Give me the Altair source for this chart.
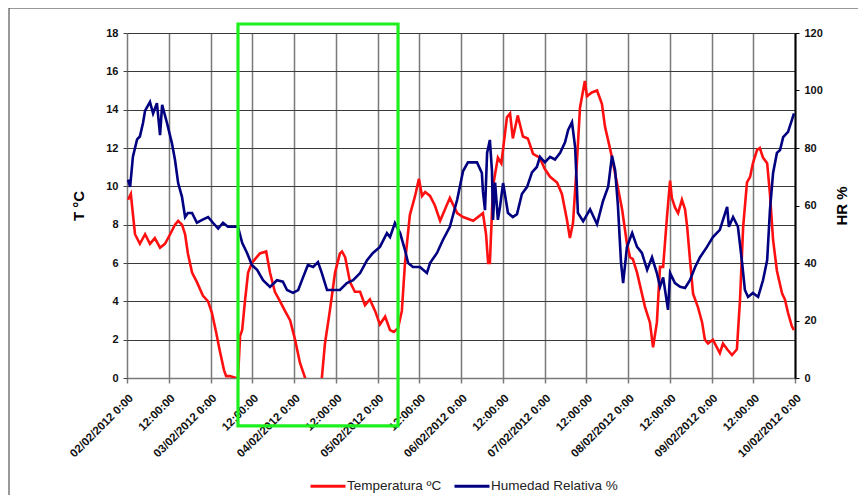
import altair as alt
import pandas as pd

# ---- data (hours since 02/02/2012 0:00) ----
temp_hours = [0.3, 1.1, 2.3, 3.7, 5.2, 6.6, 8.0, 9.5, 10.9, 12.4, 13.8, 14.7, 15.8, 16.7, 17.5,
              18.7, 20.1, 21.8, 23.3, 24.4, 25.6, 26.7, 27.9, 28.5, 29.6, 31.3, 31.9, 32.5, 33.1,
              33.9, 34.8, 35.9, 36.8, 38.2, 40.0, 41.1, 42.5, 44.0, 45.4, 46.9, 48.3, 49.7, 51.2,
              53.5, 56.0, 56.9, 58.3, 59.8, 61.2, 61.8, 62.7, 64.1, 65.5, 67.0, 68.4, 69.8, 71.3,
              72.7, 74.2, 75.6, 76.7, 77.9, 79.0, 79.9, 81.3, 82.8, 83.9, 84.8, 85.7, 87.1, 88.5,
              90.0, 92.8, 94.9, 96.6, 99.5, 102.3, 103.2, 103.8, 104.3, 105.2, 106.6, 107.6, 109.2,
              110.1, 110.9, 112.3, 113.8, 115.2, 116.7, 118.6, 120.1, 121.6, 123.6, 125.0, 126.5,
              127.3, 128.2, 129.3, 130.2, 131.6, 132.2, 133.6, 135.1, 136.5, 137.4, 138.3, 139.4,
              140.8, 142.3, 143.7, 144.6, 145.4, 146.6, 148.0, 148.9, 150.3, 151.2, 152.3, 153.2,
              154.1, 155.2, 156.1, 156.6, 157.5, 158.4, 159.5, 160.4, 161.0, 161.8, 162.7, 164.1,
              165.3, 166.1, 167.0, 168.4, 170.4, 171.3, 172.5, 173.9, 175.3, 176.2, 177.1, 178.2,
              179.1, 179.9, 181.1, 181.9, 182.8, 184.0, 184.8, 185.7, 186.8, 188.3, 189.1, 190.0,
              191.1, 191.7]
temp_values = [9.3, 9.6, 7.5, 7.0, 7.5, 7.0, 7.3, 6.8, 7.0, 7.5, 8.0, 8.2, 8.0, 7.5, 6.5,
               5.5, 5.0, 4.3, 4.0, 3.4, 2.4, 1.4, 0.4, 0.1, 0.1, 0.0, 0.0, 2.2, 2.5,
               4.0, 5.5, 6.0, 6.2, 6.5, 6.6, 5.5, 4.5, 4.0, 3.5, 3.0, 2.0, 0.8, 0.0,
               -1.5, 0.0, 1.8, 3.5, 5.5, 6.5, 6.6, 6.3, 5.0, 4.5, 4.5, 3.8, 4.1, 3.5,
               2.8, 3.2, 2.5, 2.4, 2.6, 3.5, 6.0, 8.5, 9.5, 10.4, 9.5, 9.7, 9.5, 9.0,
               8.2, 9.4, 8.6, 8.4, 8.2, 8.6, 7.5, 6.0, 6.0, 10.0, 11.5, 11.2, 13.6,
               13.8, 12.5, 13.7, 12.6, 12.5, 11.7, 11.5, 10.9, 10.5, 10.2, 9.6, 8.2,
               7.3, 8.1, 11.2, 14.1, 15.5, 14.7, 14.9, 15.0, 14.3, 13.1, 12.4, 11.5,
               10.2, 8.8, 7.0, 6.3, 6.2, 5.5, 4.4, 3.7, 2.9, 1.6, 2.9, 5.8,
               5.8, 8.4, 10.3, 9.4, 8.9, 8.6, 9.3, 8.8, 7.9, 6.2, 4.4, 3.7,
               2.9, 2.0, 1.8, 2.0, 1.3, 1.8, 1.5, 1.2, 1.5, 4.1, 7.9, 10.2,
               10.5, 11.2, 11.9, 12.0, 11.5, 11.2, 9.6, 7.2, 5.6, 4.4, 4.1, 3.4,
               2.7, 2.5]

hr_hours = [0.3, 0.9, 1.7, 2.9, 3.7, 4.6, 5.2, 6.6, 7.5, 8.6, 9.5, 10.1, 11.5, 12.9, 13.8,
            14.7, 15.8, 16.7, 17.5, 18.7, 20.1, 21.6, 23.3, 24.7, 26.2, 27.6, 29.0, 31.0, 31.9,
            33.1, 34.5, 35.9, 37.4, 39.1, 41.1, 43.1, 44.8, 46.0, 47.7, 49.2, 50.6, 52.0, 53.5,
            54.9, 56.0, 57.5, 59.2, 61.2, 63.2, 65.0, 67.0, 69.0, 70.7, 72.7, 74.7, 75.6, 77.0,
            78.5, 79.9, 80.8, 82.2, 84.2, 86.2, 87.1, 89.1, 90.8, 92.8, 94.9, 96.6, 98.0, 100.6,
            102.0, 102.3, 102.9, 103.5, 104.3, 104.9, 105.2, 105.8, 106.6, 107.2, 108.1, 109.5,
            110.9, 112.1, 113.5, 115.0, 116.4, 117.8, 118.7, 120.1, 121.6, 123.0, 124.5, 125.9,
            126.8, 127.9, 128.8, 129.3, 129.6, 131.1, 133.1, 135.1, 136.8, 138.3, 139.4, 140.3,
            141.1, 142.0, 142.6, 143.7, 145.2, 146.6, 148.0, 149.5, 150.9, 152.3, 153.2, 154.1,
            155.5, 156.1, 157.5, 159.0, 160.4, 161.8, 163.3, 164.7, 166.7, 168.4, 170.4, 171.3,
            172.5, 173.0, 174.2, 175.6, 176.8, 177.6, 178.5, 179.9, 181.4, 182.8, 184.0, 184.8,
            185.7, 186.8, 187.7, 188.6, 190.0, 191.1, 191.7]
hr_values = [69, 66.5, 77, 83, 84, 88.7, 93, 96, 92, 95.6, 84.5, 95, 88.7, 81.7, 75.8,
             67.8, 63, 56, 57.4, 57.4, 54, 55, 56, 54, 52, 54, 52.6, 52.6, 52.6,
             47, 43.5, 39.3, 37.6, 34, 31.7, 34, 33.5, 30.6, 29.6, 30.6, 35, 39.3, 38.6,
             40.3, 36.5, 30.6, 30.6, 30.6, 33, 34, 36.5, 41, 43.5, 45.6, 50.4, 49, 53.9,
             50.4, 44.5, 40, 38.6, 38.6, 36.5, 40, 43.5, 48, 52.6, 62, 72, 75, 75,
             71.3, 65, 58.4, 78.3, 82.8, 72, 55, 68, 55, 59.5, 67.8, 57.4,
             56, 57, 64, 66.5, 71.5, 73.4, 76.9, 75, 76.9, 76, 78.3, 82,
             86.3, 89, 80.3, 66.5, 57.4, 54.5, 58.7, 53.5, 61.5, 66.5, 77.3, 72.3,
             60, 40, 33, 45.6, 50.4, 45.6, 43.5, 37.6, 42, 36.5, 31.7, 35,
             23.7, 36.5, 33, 31.7, 31.3, 34, 38.6, 42, 45.6, 49, 51.5, 55,
             59.5, 52.6, 56, 52.6, 40, 30.6, 28.2, 29.6, 28.2, 34, 41, 58.4,
             71.3, 78.3, 79.3, 83.8, 85.6, 89.7, 92]

tick_hours = list(range(0, 193, 12))
tick_labels = ["02/02/2012 0:00", "12:00:00", "03/02/2012 0:00", "12:00:00",
               "04/02/2012 0:00", "12:00:00", "05/02/2012 0:00", "12:00:00",
               "06/02/2012 0:00", "12:00:00", "07/02/2012 0:00", "12:00:00",
               "08/02/2012 0:00", "12:00:00", "09/02/2012 0:00", "12:00:00",
               "10/02/2012 0:00"]
temp_ticks = list(range(0, 19, 2))
hr_ticks = list(range(0, 121, 20))

box_hours = [31.9, 77.9]      # highlighted period (green box)
box_temp = [18.47, -2.5]

series_names = ["Temperatura ºC", "Humedad Relativa %"]
series_colors = ["#ff1010", "#000080"]

# ---- tables ----
temp_df = pd.DataFrame({"h": temp_hours, "v": temp_values, "serie": series_names[0]})
hr_df = pd.DataFrame({"h": hr_hours, "v": hr_values, "serie": series_names[1]})
box_df = pd.DataFrame({"h": [box_hours[0]], "h2": [box_hours[1]],
                       "t": [box_temp[0]], "t2": [box_temp[1]]})
frame_df = pd.DataFrame({"k": [0]})

FONT = "Liberation Sans"
label_expr = "[" + ",".join("'%s'" % s for s in tick_labels) + "][round(datum.value/12)]"

x_scale = alt.Scale(domain=[0, 192], nice=False, zero=False)
x_axis = alt.Axis(values=tick_hours, labelExpr=label_expr, labelAngle=-45, title=None,
                  labelOverlap=False, labelBound=False,
                  grid=True, gridColor="#7a7a7a", gridWidth=1.5,
                  tickColor="#7a7a7a", tickSize=5, tickWidth=1.5,
                  domainColor="#7a7a7a", domainWidth=1.5,
                  labelFont=FONT, labelFontWeight="bold", labelFontSize=11.5,
                  labelColor="#111", labelPadding=9)

def xenc(field="h"):
    return alt.X(f"{field}:Q", scale=x_scale, axis=x_axis)

color_enc = alt.Color(
    "serie:N",
    scale=alt.Scale(domain=series_names, range=series_colors),
    legend=alt.Legend(title=None, orient="none", direction="horizontal",
                      legendX=182, legendY=434, symbolType="stroke",
                      symbolSize=1225, symbolStrokeWidth=3, labelOffset=0,
                      columnPadding=6, padding=0,
                      labelFont=FONT, labelFontSize=13.5, labelColor="#222"),
)

frame = alt.Chart(frame_df).mark_rect(fill=None, stroke="#333", strokeWidth=1, clip=False).encode(
    x=alt.value(-118), x2=alt.value(740), y=alt.value(-25), y2=alt.value(480)
)

red = alt.Chart(temp_df).mark_line(strokeWidth=2.6, clip=True).encode(
    x=xenc(),
    y=alt.Y("v:Q", scale=alt.Scale(domain=[0, 18], nice=False),
            axis=alt.Axis(orient="left", values=temp_ticks, title="T °C", grid=True,
                          gridColor="#3a3a3a", gridWidth=1.2, domain=False,
                          tickColor="#444", tickSize=4,
                          labelFont=FONT, labelFontWeight="bold", labelFontSize=11,
                          labelColor="#111", labelPadding=5,
                          titleFont=FONT, titleFontWeight="bold", titleFontSize=15,
                          titleColor="#000", titlePadding=19)),
    color=color_enc,
)

blue = alt.Chart(hr_df).mark_line(strokeWidth=2.6, clip=True).encode(
    x=xenc(),
    y=alt.Y("v:Q", scale=alt.Scale(domain=[0, 120], nice=False),
            axis=alt.Axis(orient="right", values=hr_ticks, title="HR %", grid=False,
                          domainColor="#000", domainWidth=2,
                          tickColor="#000", tickSize=4,
                          labelFont=FONT, labelFontWeight="bold", labelFontSize=11,
                          labelColor="#111", labelPadding=5,
                          titleFont=FONT, titleFontWeight="bold", titleFontSize=15,
                          titleColor="#000", titleAngle=270, titlePadding=27)),
    color=color_enc,
)

box = alt.Chart(box_df).mark_rect(fill=None, stroke="#1ef01e", strokeWidth=3.2, clip=False).encode(
    x=xenc("h"), x2="h2:Q",
    y=alt.Y("t:Q", scale=alt.Scale(domain=[0, 18], nice=False), axis=None),
    y2="t2:Q",
)

chart = alt.layer(frame, red, blue, box).resolve_scale(y="independent").properties(
    width=668, height=345,
    autosize=alt.AutoSizeParams(type="none"),
    padding={"left": 119, "top": 25, "right": 63, "bottom": 117},
    background="white",
).configure_view(stroke=None)

chart.save("out.html", embed_options={"renderer": "svg", "actions": False})
